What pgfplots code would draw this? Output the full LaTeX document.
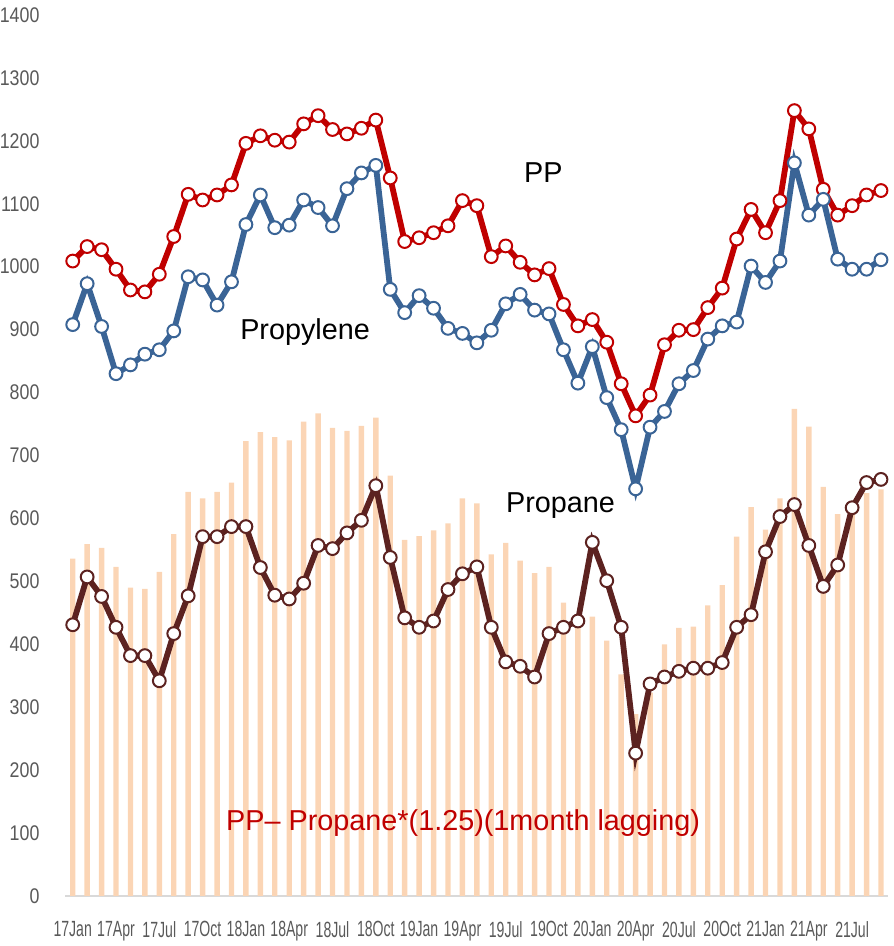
\documentclass[border=0pt]{standalone}
\usepackage{pgfplots}
\pgfplotsset{compat=1.18}
\usepackage{pgfplotstable}
\usepackage{fontspec}
\setmainfont{Liberation Sans}
\newfontfamily\ytickfont[FakeStretch=0.84]{Liberation Sans}
\newfontfamily\xtickfont[FakeStretch=0.64]{Liberation Sans}
\definecolor{ppred}{HTML}{C00000}
\definecolor{propblue}{HTML}{3A6496}
\definecolor{spreadbrown}{HTML}{5C2220}
\definecolor{barpeach}{HTML}{FBD5B5}
\definecolor{tickgray}{HTML}{595959}

\pgfplotstableread{
idx bar pp prop spread
0 536 1009 908 431
1 559 1032 973 507
2 553 1027 905 476
3 523 996 830 427
4 490 963 844 382
5 488 960 861 382
6 515 988 868 342
7 575 1048 898 417
8 642 1115 984 477
9 632 1106 979 571
10 642 1114 939 571
11 657 1130 976 587
12 723 1196 1067 587
13 737 1208 1114 522
14 729 1201 1062 478
15 724 1198 1066 472
16 754 1227 1106 497
17 767 1240 1094 557
18 744 1218 1065 552
19 739 1211 1124 577
20 747 1220 1149 597
21 760 1233 1161 652
22 668 1141 964 538
23 566 1040 927 442
24 572 1046 954 427
25 581 1054 934 437
26 592 1065 902 487
27 632 1105 894 512
28 624 1097 879 523
29 543 1016 899 427
30 561 1033 941 372
31 533 1007 956 365
32 513 987 931 348
33 523 997 925 417
34 466 940 868 427
35 444 906 815 437
36 444 916 873 562
37 406 880 792 501
38 352 814 741 427
39 289 763 647 227
40 323 796 745 337
41 400 876 770 348
42 426 899 814 357
43 428 900 835 362
44 462 935 885 362
45 494 966 906 371
46 571 1044 912 427
47 618 1091 1001 447
48 582 1054 975 547
49 632 1105 1009 603
50 774 1248 1165 622
51 746 1219 1082 557
52 650 1123 1107 492
53 607 1082 1012 526
54 624 1097 996 617
55 640 1114 996 657
56 646 1121 1011 662
}\datatable

\begin{document}
\begin{tikzpicture}
\begin{axis}[
  at={(0,0)}, anchor=south west,
  scale only axis,
  width=411.35pt, height=440.5pt,
  xmin=-0.5, xmax=56.5,
  ymin=0, ymax=1400,
  ytick={0,100,...,1400},
  xtick={0,3,...,54},
  xticklabels={17Jan,17Apr,17Jul,17Oct,18Jan,18Apr,18Jul,18Oct,19Jan,19Apr,19Jul,19Oct,20Jan,20Apr,20Jul,20Oct,21Jan,21Apr,21Jul},
  axis x line*=bottom,
  axis y line*=left,
  x axis line style={draw=black!15, line width=0.8pt, -},
  y axis line style={draw=none},
  major tick length=0pt,
  tick style={draw=none},
  /pgf/number format/assume math mode=true,
  /pgf/number format/1000 sep={},
  yticklabel style={font=\ytickfont\fontsize{10.6}{12}\selectfont, text=tickgray, anchor=east, xshift=-9.5pt},
  xticklabel style={font=\xtickfont\fontsize{11}{12}\selectfont, text=tickgray, anchor=north, yshift=-9pt},
  clip=false,
]
\addplot[ybar, bar width=2.7pt, bar shift=0pt, fill=barpeach, draw=none] table[x=idx, y=bar] {\datatable};
\addplot[color=ppred, line width=2.9pt, mark=*, mark size=3.2pt,
  mark options={fill=white, draw=ppred, line width=1pt}] table[x=idx, y=pp] {\datatable};
\addplot[color=propblue, line width=2.9pt, mark=*, mark size=3.2pt,
  mark options={fill=white, draw=propblue, line width=1pt}] table[x=idx, y=prop] {\datatable};
\addplot[color=spreadbrown, line width=2.9pt, mark=*, mark size=3.2pt,
  mark options={fill=white, draw=spreadbrown, line width=1pt}] table[x=idx, y=spread] {\datatable};
\node[font=\fontsize{14.4}{16}\selectfont] at (axis cs:32.6,1150) {PP};
\node[font=\fontsize{14.4}{16}\selectfont] at (axis cs:16.1,896) {Propylene};
\node[font=\fontsize{14.4}{16}\selectfont] at (axis cs:33.8,621) {Propane};
\node[font=\fontsize{14.4}{16}\selectfont, text=ppred] at (axis cs:27.05,116) {PP– Propane*(1.25)(1month lagging)};
\end{axis}
\pgfresetboundingbox
\useasboundingbox (-32.75pt,-25pt) rectangle (413.75pt,448pt);
\end{tikzpicture}
\end{document}
